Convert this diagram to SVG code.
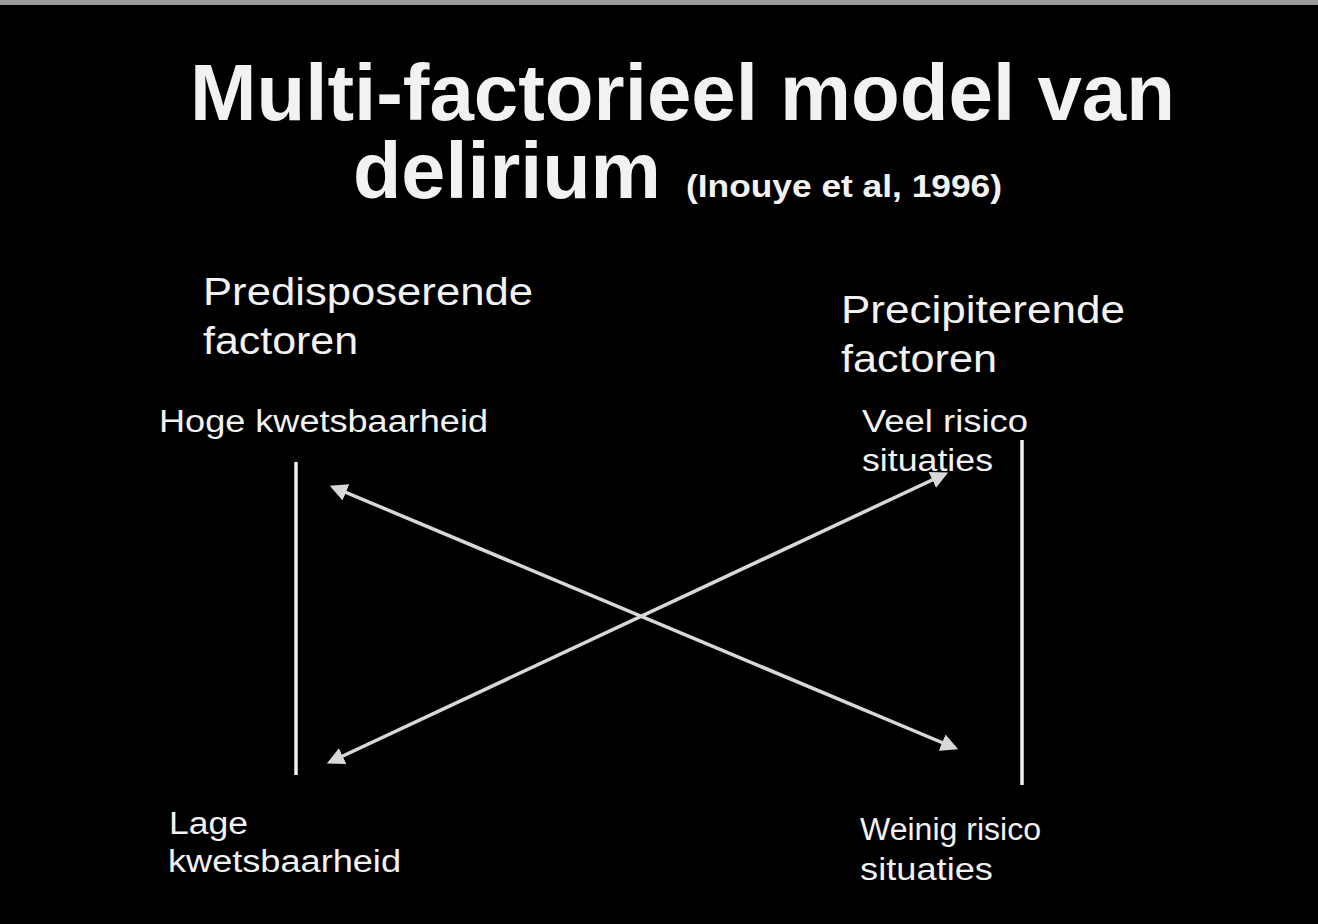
<svg xmlns="http://www.w3.org/2000/svg" width="1318" height="924" viewBox="0 0 1318 924">
<style>
text{font-family:"Liberation Sans",Arial,sans-serif;fill:#f2f2f2}
.title{font-weight:bold;font-size:79px}
.ref{font-weight:bold;font-size:31px}
.head{font-size:38px}
.lab{font-size:31px}
.axis{stroke:#f0f0f0;stroke-width:3.5;fill:none}
.diag{stroke:#d8d8d8;stroke-width:3.5;fill:none;marker-start:url(#ah);marker-end:url(#ah)}
</style>
<defs>
<marker id="ah" viewBox="0 0 10 10" refX="8" refY="5" markerWidth="5" markerHeight="5" orient="auto-start-reverse" markerUnits="strokeWidth">
<path d="M0,0 L10,5 L0,10 z" fill="#d8d8d8"/>
</marker>
</defs>
<rect x="0" y="0" width="1318" height="924" fill="#000"/>
<rect x="0" y="0" width="1318" height="5" fill="#9a9a9a"/>
<g id="title">
<text class="title" x="190" y="120" textLength="985" lengthAdjust="spacingAndGlyphs">Multi-factorieel model van</text>
<text class="title" x="353" y="198" textLength="308" lengthAdjust="spacingAndGlyphs">delirium</text>
<text class="ref" x="686" y="197" textLength="316" lengthAdjust="spacingAndGlyphs">(Inouye et al, 1996)</text>
</g>
<g id="predisponerend">
<text class="head" x="203" y="305" textLength="330" lengthAdjust="spacingAndGlyphs">Predisposerende</text>
<text class="head" x="203" y="354" textLength="155" lengthAdjust="spacingAndGlyphs">factoren</text>
</g>
<g id="precipiterend">
<text class="head" x="841" y="323" textLength="284" lengthAdjust="spacingAndGlyphs">Precipiterende</text>
<text class="head" x="841" y="372" textLength="156" lengthAdjust="spacingAndGlyphs">factoren</text>
</g>
<g id="hoog">
<text class="lab" x="159" y="432" textLength="329" lengthAdjust="spacingAndGlyphs">Hoge kwetsbaarheid</text>
</g>
<g id="veel">
<text class="lab" x="862" y="432" textLength="166" lengthAdjust="spacingAndGlyphs">Veel risico</text>
<text class="lab" x="862" y="471" textLength="131" lengthAdjust="spacingAndGlyphs">situaties</text>
</g>
<g id="laag">
<text class="lab" x="169" y="834" textLength="79" lengthAdjust="spacingAndGlyphs">Lage</text>
<text class="lab" x="168" y="872" textLength="233" lengthAdjust="spacingAndGlyphs">kwetsbaarheid</text>
</g>
<g id="weinig">
<text class="lab" x="860" y="840" textLength="181" lengthAdjust="spacingAndGlyphs">Weinig risico</text>
<text class="lab" x="860" y="880" textLength="133" lengthAdjust="spacingAndGlyphs">situaties</text>
</g>
<g id="connectors">
<line class="axis" x1="296" y1="462" x2="296" y2="775"/>
<line class="axis" x1="1022" y1="440" x2="1022" y2="785"/>
<line class="diag" x1="333" y1="487" x2="955" y2="748"/>
<line class="diag" x1="330" y1="762" x2="945" y2="474"/>
</g>
</svg>
